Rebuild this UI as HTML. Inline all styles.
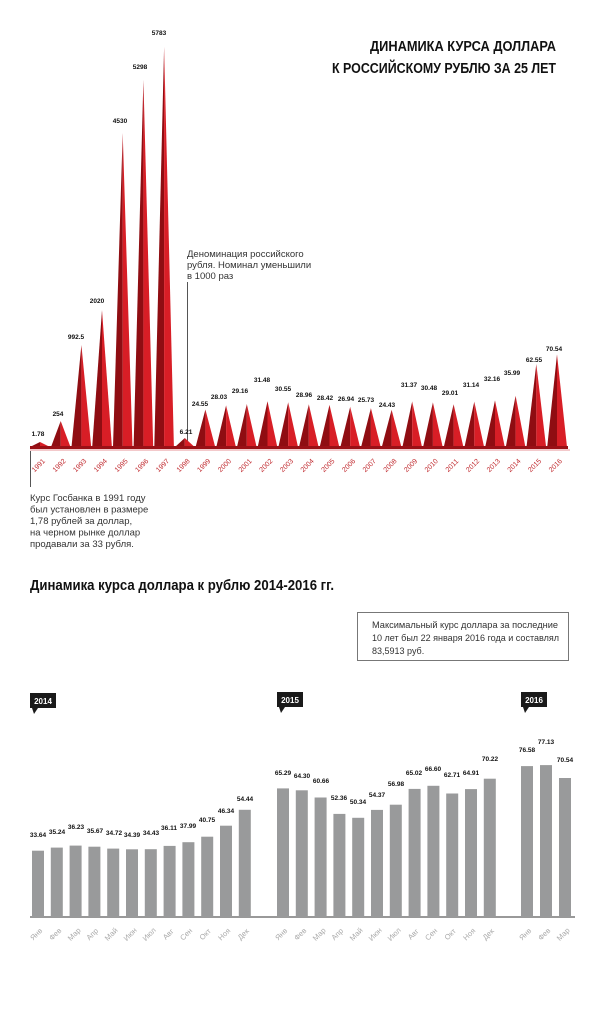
<!DOCTYPE html>
<html><head><meta charset="utf-8"><style>
html,body{margin:0;padding:0;background:#fff;}
svg{display:block;font-family:"Liberation Sans","DejaVu Sans",sans-serif;}
.v{font-size:6.5px;font-weight:bold;fill:#111;text-anchor:middle;}
.y{font-size:7px;fill:#c0282d;text-anchor:middle;}
.m{font-size:7.5px;fill:#aaa;text-anchor:middle;}
.bv{font-size:6.5px;font-weight:bold;fill:#111;text-anchor:middle;}
.t{font-size:9.5px;fill:#333;}
.ti{font-size:9px;fill:#333;}
</style></head><body>
<svg width="600" height="1025" viewBox="0 0 600 1025">
<text x="556" y="51" font-size="14.5" font-weight="bold" text-anchor="end" fill="#111" textLength="186" lengthAdjust="spacingAndGlyphs">ДИНАМИКА КУРСА ДОЛЛАРА</text>
<text x="556" y="73" font-size="14.5" font-weight="bold" text-anchor="end" fill="#111" textLength="224" lengthAdjust="spacingAndGlyphs">К РОССИЙСКОМУ РУБЛЮ ЗА 25 ЛЕТ</text>

<text class="t" x="187" y="257">Деноминация российского</text>
<text class="t" x="187" y="268">рубля. Номинал уменьшили</text>
<text class="t" x="187" y="279">в 1000 раз</text>
<line x1="187.5" y1="282" x2="187.5" y2="446" stroke="#555" stroke-width="1"/>
<line x1="30.5" y1="446" x2="30.5" y2="487" stroke="#555" stroke-width="1"/>

<g id="spikes">
<polygon points="30,447 40,442 40,447" fill="#8f0d12"/><polygon points="40,442 50,447 40,447" fill="#d81e26"/>
<polygon points="51,447 60.7,421 60.7,447" fill="#8f0d12"/><polygon points="60.7,421 70.5,447 60.7,447" fill="#d81e26"/>
<polygon points="71.5,447 81.4,345 81.4,447" fill="#8f0d12"/><polygon points="81.4,345 91.2,447 81.4,447" fill="#d81e26"/>
<polygon points="92.2,447 102,310 102,447" fill="#8f0d12"/><polygon points="102,310 111.9,447 102,447" fill="#d81e26"/>
<polygon points="113,447 122.7,133 122.7,447" fill="#8f0d12"/><polygon points="122.7,133 132.5,447 122.7,447" fill="#d81e26"/>
<polygon points="133.6,447 143.4,80 143.4,447" fill="#8f0d12"/><polygon points="143.4,80 153.2,447 143.4,447" fill="#d81e26"/>
<polygon points="154.3,447 164.1,47 164.1,447" fill="#8f0d12"/><polygon points="164.1,47 173.9,447 164.1,447" fill="#d81e26"/>
<polygon points="175,447 184.8,438 184.8,447" fill="#8f0d12"/><polygon points="184.8,438 194.6,447 184.8,447" fill="#d81e26"/>
<polygon points="195.6,447 205.4,409.5 205.4,447" fill="#8f0d12"/><polygon points="205.4,409.5 215.2,447 205.4,447" fill="#d81e26"/>
<polygon points="216.3,447 226.1,405.4 226.1,447" fill="#8f0d12"/><polygon points="226.1,405.4 235.9,447 226.1,447" fill="#d81e26"/>
<polygon points="237,447 246.8,404 246.8,447" fill="#8f0d12"/><polygon points="246.8,404 256.6,447 246.8,447" fill="#d81e26"/>
<polygon points="257.7,447 267.5,401.2 267.5,447" fill="#8f0d12"/><polygon points="267.5,401.2 277.3,447 267.5,447" fill="#d81e26"/>
<polygon points="278.4,447 288.2,402.3 288.2,447" fill="#8f0d12"/><polygon points="288.2,402.3 298,447 288.2,447" fill="#d81e26"/>
<polygon points="299,447 308.8,404.2 308.8,447" fill="#8f0d12"/><polygon points="308.8,404.2 318.6,447 308.8,447" fill="#d81e26"/>
<polygon points="319.7,447 329.5,404.9 329.5,447" fill="#8f0d12"/><polygon points="329.5,404.9 339.3,447 329.5,447" fill="#d81e26"/>
<polygon points="340.4,447 350.2,406.7 350.2,447" fill="#8f0d12"/><polygon points="350.2,406.7 360,447 350.2,447" fill="#d81e26"/>
<polygon points="361.1,447 370.9,408.1 370.9,447" fill="#8f0d12"/><polygon points="370.9,408.1 380.7,447 370.9,447" fill="#d81e26"/>
<polygon points="381.8,447 391.6,409.7 391.6,447" fill="#8f0d12"/><polygon points="391.6,409.7 401.4,447 391.6,447" fill="#d81e26"/>
<polygon points="402.4,447 412.2,401.4 412.2,447" fill="#8f0d12"/><polygon points="412.2,401.4 422,447 412.2,447" fill="#d81e26"/>
<polygon points="423.1,447 432.9,402.4 432.9,447" fill="#8f0d12"/><polygon points="432.9,402.4 442.7,447 432.9,447" fill="#d81e26"/>
<polygon points="443.8,447 453.6,404.2 453.6,447" fill="#8f0d12"/><polygon points="453.6,404.2 463.4,447 453.6,447" fill="#d81e26"/>
<polygon points="464.5,447 474.3,401.6 474.3,447" fill="#8f0d12"/><polygon points="474.3,401.6 484.1,447 474.3,447" fill="#d81e26"/>
<polygon points="485.2,447 495,400.4 495,447" fill="#8f0d12"/><polygon points="495,400.4 504.8,447 495,447" fill="#d81e26"/>
<polygon points="505.8,447 515.6,395.8 515.6,447" fill="#8f0d12"/><polygon points="515.6,395.8 525.4,447 515.6,447" fill="#d81e26"/>
<polygon points="526.5,447 536.3,364 536.3,447" fill="#8f0d12"/><polygon points="536.3,364 546.1,447 536.3,447" fill="#d81e26"/>
<polygon points="547.2,447 557,354.4 557,447" fill="#8f0d12"/><polygon points="557,354.4 567,447 557,447" fill="#d81e26"/>
</g>
<rect x="30" y="446" width="538" height="3" fill="#9a1016"/>
<rect x="30" y="449" width="540" height="2" fill="#f3c9cb"/>

<g>
<text class="v" x="38" y="436">1.78</text>
<text class="v" x="58" y="416">254</text>
<text class="v" x="76" y="339">992.5</text>
<text class="v" x="97" y="303">2020</text>
<text class="v" x="120" y="123">4530</text>
<text class="v" x="140" y="69">5298</text>
<text class="v" x="159" y="35">5783</text>
<text class="v" x="186" y="434">6.21</text>
<text class="v" x="200" y="406">24.55</text>
<text class="v" x="219" y="399">28.03</text>
<text class="v" x="240" y="393">29.16</text>
<text class="v" x="262" y="382">31.48</text>
<text class="v" x="283" y="391">30.55</text>
<text class="v" x="304" y="397">28.96</text>
<text class="v" x="325" y="400">28.42</text>
<text class="v" x="346" y="401">26.94</text>
<text class="v" x="366" y="402">25.73</text>
<text class="v" x="387" y="407">24.43</text>
<text class="v" x="409" y="387">31.37</text>
<text class="v" x="429" y="390">30.48</text>
<text class="v" x="450" y="395">29.01</text>
<text class="v" x="471" y="387">31.14</text>
<text class="v" x="492" y="381">32.16</text>
<text class="v" x="512" y="375">35.99</text>
<text class="v" x="534" y="362">62.55</text>
<text class="v" x="554" y="351">70.54</text>
</g>

<g>
<text class="y" transform="translate(40,467) rotate(-45)">1991</text>
<text class="y" transform="translate(60.7,467) rotate(-45)">1992</text>
<text class="y" transform="translate(81.4,467) rotate(-45)">1993</text>
<text class="y" transform="translate(102,467) rotate(-45)">1994</text>
<text class="y" transform="translate(122.7,467) rotate(-45)">1995</text>
<text class="y" transform="translate(143.4,467) rotate(-45)">1996</text>
<text class="y" transform="translate(164.1,467) rotate(-45)">1997</text>
<text class="y" transform="translate(184.8,467) rotate(-45)">1998</text>
<text class="y" transform="translate(205.4,467) rotate(-45)">1999</text>
<text class="y" transform="translate(226.1,467) rotate(-45)">2000</text>
<text class="y" transform="translate(246.8,467) rotate(-45)">2001</text>
<text class="y" transform="translate(267.5,467) rotate(-45)">2002</text>
<text class="y" transform="translate(288.2,467) rotate(-45)">2003</text>
<text class="y" transform="translate(308.8,467) rotate(-45)">2004</text>
<text class="y" transform="translate(329.5,467) rotate(-45)">2005</text>
<text class="y" transform="translate(350.2,467) rotate(-45)">2006</text>
<text class="y" transform="translate(370.9,467) rotate(-45)">2007</text>
<text class="y" transform="translate(391.6,467) rotate(-45)">2008</text>
<text class="y" transform="translate(412.2,467) rotate(-45)">2009</text>
<text class="y" transform="translate(432.9,467) rotate(-45)">2010</text>
<text class="y" transform="translate(453.6,467) rotate(-45)">2011</text>
<text class="y" transform="translate(474.3,467) rotate(-45)">2012</text>
<text class="y" transform="translate(495,467) rotate(-45)">2013</text>
<text class="y" transform="translate(515.6,467) rotate(-45)">2014</text>
<text class="y" transform="translate(536.3,467) rotate(-45)">2015</text>
<text class="y" transform="translate(557,467) rotate(-45)">2016</text>
</g>

<text class="t" x="30" y="501">Курс Госбанка в 1991 году</text>
<text class="t" x="30" y="512.5">был установлен в размере</text>
<text class="t" x="30" y="524">1,78 рублей за доллар,</text>
<text class="t" x="30" y="535.5">на черном рынке доллар</text>
<text class="t" x="30" y="547">продавали за 33 рубля.</text>

<text x="30" y="590" font-size="14.5" font-weight="bold" fill="#111" textLength="304" lengthAdjust="spacingAndGlyphs">Динамика курса доллара к рублю 2014-2016 гг.</text>

<rect x="357.5" y="612.5" width="211" height="48" fill="none" stroke="#777" stroke-width="1"/>
<text class="ti" x="372" y="628" textLength="186" lengthAdjust="spacingAndGlyphs">Максимальный курс доллара за последние</text>
<text class="ti" x="372" y="641" textLength="187" lengthAdjust="spacingAndGlyphs">10 лет был 22 января 2016 года и составлял</text>
<text class="ti" x="372" y="654">83,5913 руб.</text>

<g font-size="8" font-weight="bold" fill="#fff">
<rect x="30" y="693" width="26" height="15" fill="#1a1a1a"/><polygon points="32,708 38,708 34,714" fill="#1a1a1a"/><text x="43" y="704" text-anchor="middle">2014</text>
<rect x="277" y="692" width="26" height="15" fill="#1a1a1a"/><polygon points="279,707 285,707 281,713" fill="#1a1a1a"/><text x="290" y="703" text-anchor="middle">2015</text>
<rect x="521" y="692" width="26" height="15" fill="#1a1a1a"/><polygon points="523,707 529,707 525,713" fill="#1a1a1a"/><text x="534" y="703" text-anchor="middle">2016</text>
</g>

<rect x="30" y="916" width="545" height="2" fill="#999"/>
<g fill="#999a9b">
<rect x="32" y="850.7" width="12" height="66.3"/>
<rect x="50.8" y="847.6" width="12" height="69.4"/>
<rect x="69.6" y="845.6" width="12" height="71.4"/>
<rect x="88.4" y="846.7" width="12" height="70.3"/>
<rect x="107.2" y="848.6" width="12" height="68.4"/>
<rect x="126" y="849.3" width="12" height="67.7"/>
<rect x="144.8" y="849.2" width="12" height="67.8"/>
<rect x="163.6" y="845.9" width="12" height="71.1"/>
<rect x="182.4" y="842.2" width="12" height="74.8"/>
<rect x="201.2" y="836.7" width="12" height="80.3"/>
<rect x="220" y="825.7" width="12" height="91.3"/>
<rect x="238.8" y="809.8" width="12" height="107.2"/>
<rect x="277" y="788.4" width="12" height="128.6"/>
<rect x="295.8" y="790.3" width="12" height="126.7"/>
<rect x="314.6" y="797.5" width="12" height="119.5"/>
<rect x="333.4" y="813.9" width="12" height="103.1"/>
<rect x="352.2" y="817.8" width="12" height="99.2"/>
<rect x="371" y="809.9" width="12" height="107.1"/>
<rect x="389.8" y="804.7" width="12" height="112.3"/>
<rect x="408.6" y="788.9" width="12" height="128.1"/>
<rect x="427.4" y="785.8" width="12" height="131.2"/>
<rect x="446.2" y="793.5" width="12" height="123.5"/>
<rect x="465" y="789.1" width="12" height="127.9"/>
<rect x="483.8" y="778.7" width="12" height="138.3"/>
<rect x="521" y="766.1" width="12" height="150.9"/>
<rect x="540" y="765.1" width="12" height="151.9"/>
<rect x="559" y="778" width="12" height="139"/>
</g>
<g>
<text class="bv" x="38" y="837">33.64</text>
<text class="bv" x="57" y="834">35.24</text>
<text class="bv" x="76" y="829">36.23</text>
<text class="bv" x="95" y="833">35.67</text>
<text class="bv" x="114" y="835">34.72</text>
<text class="bv" x="132" y="837">34.39</text>
<text class="bv" x="151" y="835">34.43</text>
<text class="bv" x="169" y="830">36.11</text>
<text class="bv" x="188" y="828">37.99</text>
<text class="bv" x="207" y="822">40.75</text>
<text class="bv" x="226" y="813">46.34</text>
<text class="bv" x="245" y="801">54.44</text>
<text class="bv" x="283" y="775">65.29</text>
<text class="bv" x="302" y="778">64.30</text>
<text class="bv" x="321" y="783">60.66</text>
<text class="bv" x="339" y="800">52.36</text>
<text class="bv" x="358" y="804">50.34</text>
<text class="bv" x="377" y="797">54.37</text>
<text class="bv" x="396" y="786">56.98</text>
<text class="bv" x="414" y="775">65.02</text>
<text class="bv" x="433" y="771">66.60</text>
<text class="bv" x="452" y="777">62.71</text>
<text class="bv" x="471" y="775">64.91</text>
<text class="bv" x="490" y="761">70.22</text>
<text class="bv" x="527" y="752">76.58</text>
<text class="bv" x="546" y="744">77.13</text>
<text class="bv" x="565" y="762">70.54</text>
</g>
<g>
<text class="m" transform="translate(38,936) rotate(-45)">Янв</text>
<text class="m" transform="translate(57,936) rotate(-45)">Фев</text>
<text class="m" transform="translate(76,936) rotate(-45)">Мар</text>
<text class="m" transform="translate(94,936) rotate(-45)">Апр</text>
<text class="m" transform="translate(113,936) rotate(-45)">Май</text>
<text class="m" transform="translate(132,936) rotate(-45)">Июн</text>
<text class="m" transform="translate(151,936) rotate(-45)">Июл</text>
<text class="m" transform="translate(170,936) rotate(-45)">Авг</text>
<text class="m" transform="translate(188,936) rotate(-45)">Сен</text>
<text class="m" transform="translate(207,936) rotate(-45)">Окт</text>
<text class="m" transform="translate(226,936) rotate(-45)">Ноя</text>
<text class="m" transform="translate(245,936) rotate(-45)">Дек</text>
<text class="m" transform="translate(283,936) rotate(-45)">Янв</text>
<text class="m" transform="translate(302,936) rotate(-45)">Фев</text>
<text class="m" transform="translate(321,936) rotate(-45)">Мар</text>
<text class="m" transform="translate(339,936) rotate(-45)">Апр</text>
<text class="m" transform="translate(358,936) rotate(-45)">Май</text>
<text class="m" transform="translate(377,936) rotate(-45)">Июн</text>
<text class="m" transform="translate(396,936) rotate(-45)">Июл</text>
<text class="m" transform="translate(415,936) rotate(-45)">Авг</text>
<text class="m" transform="translate(433,936) rotate(-45)">Сен</text>
<text class="m" transform="translate(452,936) rotate(-45)">Окт</text>
<text class="m" transform="translate(471,936) rotate(-45)">Ноя</text>
<text class="m" transform="translate(490,936) rotate(-45)">Дек</text>
<text class="m" transform="translate(527,936) rotate(-45)">Янв</text>
<text class="m" transform="translate(546,936) rotate(-45)">Фев</text>
<text class="m" transform="translate(565,936) rotate(-45)">Мар</text>
</g>
</svg>
</body></html>
